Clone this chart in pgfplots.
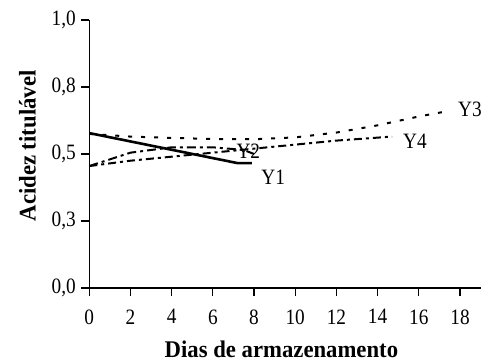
\documentclass[border=0pt]{standalone}
\usepackage{fontspec}
\setmainfont{Liberation Serif}
\newfontfamily\tickfont[FakeStretch=0.88]{Liberation Serif}
\newfontfamily\labfont[FakeStretch=0.95]{Liberation Serif}
\usepackage{pgfplots}
\pgfplotsset{compat=1.18}
\begin{document}
\begin{tikzpicture}
\begin{axis}[
  scale only axis, width=391.3bp, height=268bp,
  at={(0,0)}, anchor=south west,
  xmin=0, xmax=19, ymin=0, ymax=1,
  axis lines=left, axis line style={-, line width=1.2bp},
  tick align=outside, major tick length=8bp,
  tick style={line width=1.2bp, black},
  xtick={0,2,...,18},
  ytick={0,0.25,0.5,0.75,1},
  yticklabels={{0,0},{0,3},{0,5},{0,8},{1,0}},
  /pgf/number format/assume math mode=true,
  tick label style={font=\tickfont\fontsize{22}{22}\selectfont},
  xticklabel style={yshift=-10bp},
  yticklabel style={xshift=-2bp},
  xlabel={\bfseries Dias de armazenamento},
  ylabel={\bfseries Acidez titulável},
  label style={font=\labfont\fontsize{24}{24}\selectfont},
  xlabel style={at={(axis description cs:0.491,0)}, anchor=base, yshift=-69bp},
  ylabel style={at={(axis description cs:-0.158,0.53)}, anchor=center},
  clip=false,
]
% Y1
\addplot[black, line width=2.6bp] coordinates {(0,0.578) (7.2,0.466) (7.9,0.466)};
% Y2
\addplot[black, line width=2bp, dash pattern=on 9bp off 4bp on 3bp off 4bp] coordinates {(0,0.455) (1,0.48) (2,0.505) (4,0.525) (6,0.525) (7.5,0.515) (8,0.5)};
% Y3
\addplot[black, line width=2bp, dash pattern=on 4bp off 9bp] coordinates {(0,0.575) (2,0.565) (4,0.56) (6,0.556) (8,0.555) (10,0.562) (12,0.58) (14,0.607) (16,0.64) (17.2,0.657)};
% Y4
\addplot[black, line width=2bp, dash pattern=on 8bp off 4bp on 3bp off 4bp] coordinates {(0,0.455) (2,0.475) (4,0.49) (6,0.505) (8,0.52) (10,0.535) (12,0.55) (14.7,0.565)};
\node[font=\tickfont\fontsize{22}{22}\selectfont] at (axis cs:8.93,0.412) {Y1};
\node[font=\tickfont\fontsize{22}{22}\selectfont] at (axis cs:7.72,0.509) {Y2};
\node[font=\tickfont\fontsize{22}{22}\selectfont] at (axis cs:18.48,0.666) {Y3};
\node[font=\tickfont\fontsize{22}{22}\selectfont] at (axis cs:15.81,0.547) {Y4};
\end{axis}
\pgfresetboundingbox
\path (-89.3bp,-73bp) rectangle (400.7bp,288bp);
\end{tikzpicture}
\end{document}
